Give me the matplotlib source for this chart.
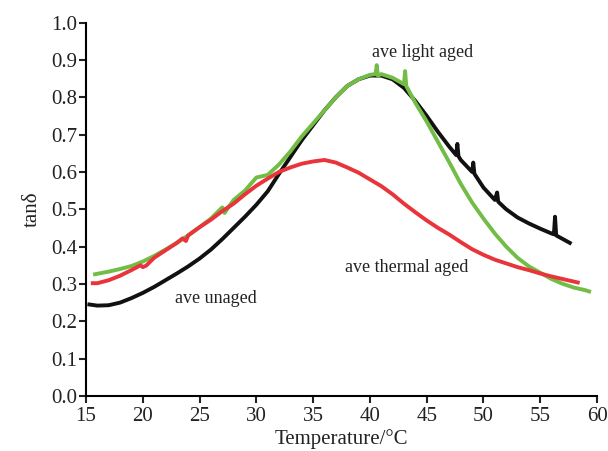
import matplotlib.pyplot as plt

# tan(delta) vs temperature, averaged curves
temp_unaged = [15.3, 16, 17, 18, 19, 20, 21, 22, 23, 24, 25, 26, 27, 28, 29, 30, 31, 32, 33, 34, 35,
               36, 37, 38, 39, 40, 41, 42, 43, 44, 45, 46, 47, 47.6, 47.7, 47.8, 48, 49, 49.1, 49.2,
               50, 51, 51.2, 51.3, 52, 53, 54, 55, 56, 56.2, 56.3, 56.4, 57, 57.6]
tan_unaged = [0.245, 0.242, 0.243, 0.250, 0.262, 0.276, 0.292, 0.310, 0.328, 0.347, 0.368, 0.392,
              0.420, 0.450, 0.480, 0.512, 0.548, 0.595, 0.640, 0.685, 0.725, 0.765, 0.800, 0.830,
              0.848, 0.858, 0.858, 0.848, 0.825, 0.790, 0.750, 0.707, 0.667, 0.645, 0.675, 0.642,
              0.632, 0.600, 0.625, 0.595, 0.558, 0.525, 0.545, 0.520, 0.500, 0.478, 0.462, 0.448,
              0.435, 0.433, 0.480, 0.430, 0.420, 0.410]

temp_light = [15.8, 17, 18, 19, 20, 21, 22, 23, 24, 25, 26, 27, 27.2, 28, 29, 30, 31, 32, 33, 34, 35,
              36, 37, 38, 39, 40, 40.5, 40.6, 40.7, 41, 42, 43, 43.1, 43.2, 44, 45, 46, 47, 48, 49,
              50, 51, 52, 53, 54, 55, 56, 57, 58, 59, 59.3]
tan_light = [0.326, 0.333, 0.340, 0.348, 0.360, 0.375, 0.392, 0.410, 0.430, 0.452, 0.475, 0.505,
             0.490, 0.525, 0.550, 0.585, 0.592, 0.620, 0.655, 0.695, 0.730, 0.765, 0.800, 0.830,
             0.848, 0.860, 0.862, 0.886, 0.858, 0.862, 0.852, 0.835, 0.870, 0.830, 0.785, 0.735,
             0.680, 0.625, 0.568, 0.518, 0.475, 0.435, 0.400, 0.370, 0.347, 0.330, 0.313, 0.300,
             0.290, 0.283, 0.280]

temp_thermal = [15.6, 16, 17, 18, 19, 19.8, 20, 20.3, 21, 22, 23, 23.5, 23.8, 24, 25, 26, 27, 28, 29,
                30, 31, 32, 33, 34, 35, 36, 37, 38, 39, 40, 41, 42, 43, 44, 45, 46, 47, 48, 49, 50,
                51, 52, 53, 54, 55, 56, 57, 58, 58.3]
tan_thermal = [0.302, 0.302, 0.310, 0.322, 0.337, 0.350, 0.345, 0.349, 0.370, 0.390, 0.410, 0.422,
               0.415, 0.430, 0.452, 0.472, 0.495, 0.515, 0.540, 0.563, 0.582, 0.600, 0.612, 0.622,
               0.628, 0.632, 0.625, 0.612, 0.598, 0.580, 0.562, 0.540, 0.515, 0.492, 0.470, 0.450,
               0.432, 0.412, 0.393, 0.378, 0.365, 0.355, 0.345, 0.337, 0.328, 0.320, 0.313, 0.306,
               0.304]

plt.rcParams['font.family'] = ['Liberation Serif', 'DejaVu Serif']

fig = plt.figure(figsize=(6.08, 4.51), dpi=100)
ax = fig.add_axes([0.1414, 0.122, 0.8406, 0.828])

ax.plot(temp_unaged, tan_unaged, color='#111111', lw=2.8, solid_joinstyle='round')
ax.plot(temp_light, tan_light, color='#72bd45', lw=2.8, solid_joinstyle='round')
ax.plot(temp_thermal, tan_thermal, color='#e8343a', lw=2.8, solid_joinstyle='round')

ax.text(44.6, 0.921, 'ave light aged', ha='center', va='center', fontsize=13, color='#222222')
ax.text(43.2, 0.343, 'ave thermal aged', ha='center', va='center', fontsize=13, color='#222222')
ax.text(26.4, 0.26, 'ave unaged', ha='center', va='center', fontsize=13, color='#222222')

ax.set_xlim(15, 60)
ax.set_ylim(0, 1.0)
ax.set_xticks(range(15, 61, 5))
ax.set_yticks([i / 10 for i in range(11)])
ax.set_yticklabels(['%.1f' % (i / 10) for i in range(11)])

for side in ['top', 'right']:
    ax.spines[side].set_visible(False)
for side in ['left', 'bottom']:
    ax.spines[side].set_linewidth(1.5)
ax.tick_params(direction='out', length=5, width=1.5, labelsize=15, color='#222222',
               labelcolor='#222222')
ax.tick_params(axis='x', pad=3)
ax.tick_params(axis='y', pad=1)

ax.set_xlabel('Temperature/°C', fontsize=15, labelpad=2, color='#222222')
ax.set_ylabel('tanδ', fontsize=15, labelpad=7, color='#222222')

fig.savefig('out.png', dpi=100)
